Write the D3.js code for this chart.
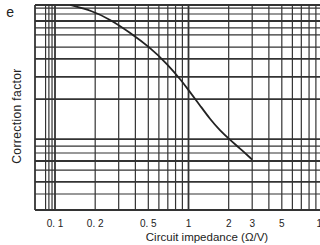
<!DOCTYPE html>
<html>
<head>
<meta charset="utf-8">
<script src="https://cdn.jsdelivr.net/npm/d3@7"></script>
<style>
  html, body { margin: 0; padding: 0; background: #fff; }
  svg { display: block; font-family: "Liberation Sans", Arial, sans-serif; }
</style>
</head>
<body>
<div id="chart"></div>
<script>
// Correction factor vs circuit impedance (log x, unlabelled y grid)

// x grid (ohm per volt) and labelled ticks
const xGrid = [0.085, 0.09, 0.095, 0.1, 0.2, 0.3, 0.4, 0.5, 0.6, 0.7, 0.8, 0.9,
               1, 2, 3, 4, 5, 6, 7, 8, 9, 10];
const xHeavy = [0.1, 1, 10];
const xLabels = [0.1, 0.2, 0.5, 1, 2, 3, 5, 10];

// y grid on a 0..1 relative scale
const yGrid = [1.0, 0.985, 0.956, 0.922, 0.888, 0.854, 0.795, 0.737, 0.649, 0.541,
               0.346, 0.312, 0.278, 0.239, 0.195, 0.137, 0.078, 0];
const yHeavy = [0.922, 0.737, 0.649, 0.541, 0.346, 0.239, 0.137];

// the curve
const curveX = [0.13, 0.19, 0.26, 0.36, 0.51, 0.70, 0.89, 1.0, 1.22, 1.45, 1.72, 2.04, 2.43, 3.0];
const curveY = [1.0, 0.972, 0.929, 0.868, 0.795, 0.710, 0.629, 0.585, 0.510, 0.443, 0.388, 0.343, 0.300, 0.246];

const width = 320, height = 245;
const plotLeft = 35, plotTop = 5, plotBottom = 210;
const ink = '#333';

const svg = d3.select('#chart').append('svg')
    .attr('width', width)
    .attr('height', height);

const x = d3.scaleLog().domain([0.1, 10]).range([55, 322]);
const y = d3.scaleLinear().domain([0, 1]).range([plotBottom, plotTop]);

// horizontal grid
svg.append('g').selectAll('line')
    .data(yGrid)
    .join('line')
    .attr('x1', plotLeft).attr('x2', width + 5)
    .attr('y1', d => y(d)).attr('y2', d => y(d))
    .attr('stroke', ink)
    .attr('stroke-width', d => (yHeavy.includes(d) || d === 0 || d === 1) ? 1.8 : 1.2);

// vertical grid
svg.append('g').selectAll('line')
    .data(xGrid)
    .join('line')
    .attr('x1', d => x(d)).attr('x2', d => x(d))
    .attr('y1', plotTop).attr('y2', plotBottom)
    .attr('stroke', ink)
    .attr('stroke-width', d => xHeavy.includes(d) ? 1.8 : 1.2);

// left border
svg.append('line')
    .attr('x1', plotLeft).attr('x2', plotLeft)
    .attr('y1', plotTop).attr('y2', plotBottom)
    .attr('stroke', ink).attr('stroke-width', 1.8);

// curve
const pts = curveX.map((v, i) => [v, curveY[i]]);
svg.append('path')
    .datum(pts)
    .attr('fill', 'none')
    .attr('stroke', '#222')
    .attr('stroke-width', 1.8)
    .attr('d', d3.line()
        .x(d => x(d[0]))
        .y(d => y(d[1]))
        .curve(d3.curveBasis));

// tick labels
svg.append('g').selectAll('text')
    .data(xLabels)
    .join('text')
    .attr('x', d => x(d))
    .attr('y', 227)
    .attr('text-anchor', 'middle')
    .attr('font-size', '10px')
    .attr('fill', '#222')
    .text(d => d < 1 ? d.toFixed(1).replace('.', '. ') : d);

// axis titles
svg.append('text')
    .attr('x', 207).attr('y', 241)
    .attr('text-anchor', 'middle')
    .attr('font-size', '11.5px')
    .attr('fill', '#222')
    .text('Circuit impedance (\u03A9/V)');

svg.append('text')
    .attr('transform', 'translate(21,116) rotate(-90)')
    .attr('text-anchor', 'middle')
    .attr('font-size', '12px')
    .attr('letter-spacing', '0.4px')
    .attr('fill', '#222')
    .text('Correction factor');

// fragment of a cut-off word at top-left
svg.append('text')
    .attr('x', 14).attr('y', 17)
    .attr('text-anchor', 'end')
    .attr('font-size', '14px')
    .attr('fill', '#222')
    .text('e');
</script>
</body>
</html>
